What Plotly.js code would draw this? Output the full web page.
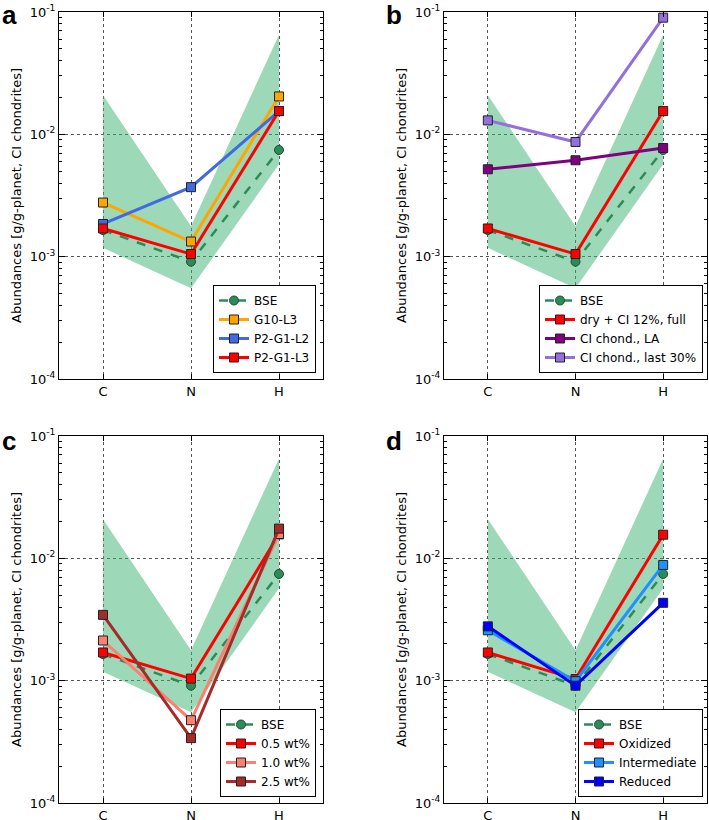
<!DOCTYPE html>
<html>
<head>
<meta charset="utf-8">
<script src="https://cdn.plot.ly/plotly-3.0.1.min.js"></script>
<style>html,body{margin:0;padding:0;background:#fff;}#chart{width:709px;height:820px;}</style>
</head>
<body>
<div id="chart"></div>
<script>
// ---------- data ----------
const categories = ["C", "N", "H"];
const bseValues = [1.65e-3, 9.1e-4, 7.45e-3];
const bseUpper = [2.09e-2, 1.77e-3, 6.53e-2];
const bseLower = [1.18e-3, 5.52e-4, 5.69e-3];

// panel a
const aNames = ["G10-L3", "P2-G1-L2", "P2-G1-L3"];
const aG10L3 = [2.77e-3, 1.33e-3, 2.04e-2];
const aP2G1L2 = [1.85e-3, 3.70e-3, 1.55e-2];
const aP2G1L3 = [1.70e-3, 1.05e-3, 1.55e-2];

// panel b
const bNames = ["dry + CI 12%, full", "CI chond., LA", "CI chond., last 30%"];
const bDryCI = [1.70e-3, 1.05e-3, 1.55e-2];
const bCILA = [5.18e-3, 6.14e-3, 7.73e-3];
const bCILast30 = [1.30e-2, 8.66e-3, 8.99e-2];

// panel c
const cNames = ["0.5 wt%", "1.0 wt%", "2.5 wt%"];
const c05 = [1.70e-3, 1.04e-3, 1.57e-2];
const c10 = [2.13e-3, 4.75e-4, 1.58e-2];
const c25 = [3.45e-3, 3.39e-4, 1.75e-2];

// panel d
const dNames = ["Oxidized", "Intermediate", "Reduced"];
const dOx = [1.70e-3, 1.03e-3, 1.56e-2];
const dInt = [2.58e-3, 9.9e-4, 8.83e-3];
const dRed = [2.78e-3, 9.1e-4, 4.33e-3];

const panelLabels = ["a", "b", "c", "d"];
const yTickVals = [1e-4, 1e-3, 1e-2, 1e-1];
const yTickText = ["10<sup>-4</sup>", "10<sup>-3</sup>", "10<sup>-2</sup>", "10<sup>-1</sup>"];
const yTitle = "Abundances [g/g-planet, CI chondrites]";

// ---------- styling ----------
const W = 709, H = 820;
const FONT = "DejaVu Sans, Liberation Sans, sans-serif";
const panels = [
  {left: 59, right: 323, top: 12, bottom: 379, legRight: 316, legBottom: 373,
   series: [[aNames[0], aG10L3, "#FFA500"], [aNames[1], aP2G1L2, "#4169E1"], [aNames[2], aP2G1L3, "#FF0000"]]},
  {left: 444, right: 707, top: 12, bottom: 379, legRight: 703, legBottom: 373,
   series: [[bNames[0], bDryCI, "#FF0000"], [bNames[1], bCILA, "#800080"], [bNames[2], bCILast30, "#9370DB"]]},
  {left: 59, right: 323, top: 436, bottom: 803, legRight: 316, legBottom: 797,
   series: [[cNames[0], c05, "#FF0000"], [cNames[1], c10, "#FA8072"], [cNames[2], c25, "#A52A2A"]]},
  {left: 444, right: 707, top: 436, bottom: 803, legRight: 703, legBottom: 797,
   series: [[dNames[0], dOx, "#FF0000"], [dNames[1], dInt, "#1E90FF"], [dNames[2], dRed, "#0000FF"]]}
];

const minorVals = [];
for (let e = -4; e < -1; e++) for (let m = 2; m <= 9; m++) minorVals.push(m * Math.pow(10, e));

const traces = [];
const layout = {
  width: W, height: H,
  margin: {l: 0, r: 0, t: 0, b: 0},
  paper_bgcolor: "#fff", plot_bgcolor: "#fff",
  font: {family: FONT, color: "#000", size: 12},
  showlegend: true,
  annotations: []
};

panels.forEach((p, i) => {
  const n = i + 1;
  const xa = n === 1 ? "x" : "x" + n;
  const ya = n === 1 ? "y" : "y" + n;
  const xKey = n === 1 ? "xaxis" : "xaxis" + n;
  const yKey = n === 1 ? "yaxis" : "yaxis" + n;
  const legKey = n === 1 ? "legend" : "legend" + n;

  // band
  traces.push({
    x: categories.concat(categories.slice().reverse()),
    y: bseLower.concat(bseUpper.slice().reverse()),
    xaxis: xa, yaxis: ya, type: "scatter", mode: "lines",
    fill: "toself", fillcolor: "rgba(60,179,113,0.5)",
    line: {width: 0, color: "rgba(0,0,0,0)"},
    showlegend: false, hoverinfo: "skip", legend: legKey
  });
  // BSE
  traces.push({
    x: categories, y: bseValues, xaxis: xa, yaxis: ya, type: "scatter",
    mode: "lines+markers", name: "BSE", legend: legKey,
    line: {color: "#2E8B57", width: 2.5, dash: "dash"},
    marker: {symbol: "circle", size: 9, color: "#2E8B57", line: {color: "#1a4d33", width: 1}}
  });
  p.series.forEach(s => {
    traces.push({
      x: categories, y: s[1], xaxis: xa, yaxis: ya, type: "scatter",
      mode: "lines+markers", name: s[0], legend: legKey,
      line: {color: s[2], width: 3},
      marker: {symbol: "square", size: 9, color: s[2], line: {color: "#222", width: 1}}
    });
  });

  layout[xKey] = {
    domain: [p.left / W, p.right / W], anchor: ya,
    type: "category", categoryorder: "array", categoryarray: categories,
    range: [-0.5, 2.5],
    showline: true, linecolor: "#000", linewidth: 1, mirror: "ticks",
    ticks: "inside", ticklen: 5, tickcolor: "#000",
    showgrid: true, gridcolor: "#555", griddash: "dot", gridwidth: 1,
    tickfont: {size: 13, family: FONT}, zeroline: false
  };
  layout[yKey] = {
    domain: [1 - p.bottom / H, 1 - p.top / H], anchor: xa,
    type: "log", range: [-4, -1],
    tickmode: "array", tickvals: yTickVals, ticktext: yTickText,
    showline: true, linecolor: "#000", linewidth: 1, mirror: "ticks",
    ticks: "inside", ticklen: 6, tickcolor: "#000",
    minor: {tickmode: "array", tickvals: minorVals, ticks: "inside", ticklen: 3, tickcolor: "#000", showgrid: false},
    showgrid: true, gridcolor: "#555", griddash: "dot", gridwidth: 1,
    tickfont: {size: 13, family: FONT}, zeroline: false,
    title: {text: yTitle, font: {size: 13, family: FONT}, standoff: 5}
  };
  layout[legKey] = {
    x: p.legRight / W, y: 1 - p.legBottom / H, xanchor: "right", yanchor: "bottom",
    xref: "paper", yref: "paper",
    bgcolor: "#fff", bordercolor: "#000", borderwidth: 1,
    font: {size: 12, family: FONT}, tracegroupgap: 0, itemwidth: 30
  };
  layout.annotations.push({
    text: "<b>" + panelLabels[i] + "</b>", xref: "paper", yref: "paper",
    x: (i % 2 === 0 ? 0 : 384) / W, y: 1 - (i < 2 ? -2 : 424) / H,
    xanchor: "left", yanchor: "top", showarrow: false,
    font: {size: 26, family: "Liberation Sans, Arial, sans-serif", color: "#000"}
  });
});

Plotly.newPlot("chart", traces, layout, {staticPlot: true});
</script>
</body>
</html>
